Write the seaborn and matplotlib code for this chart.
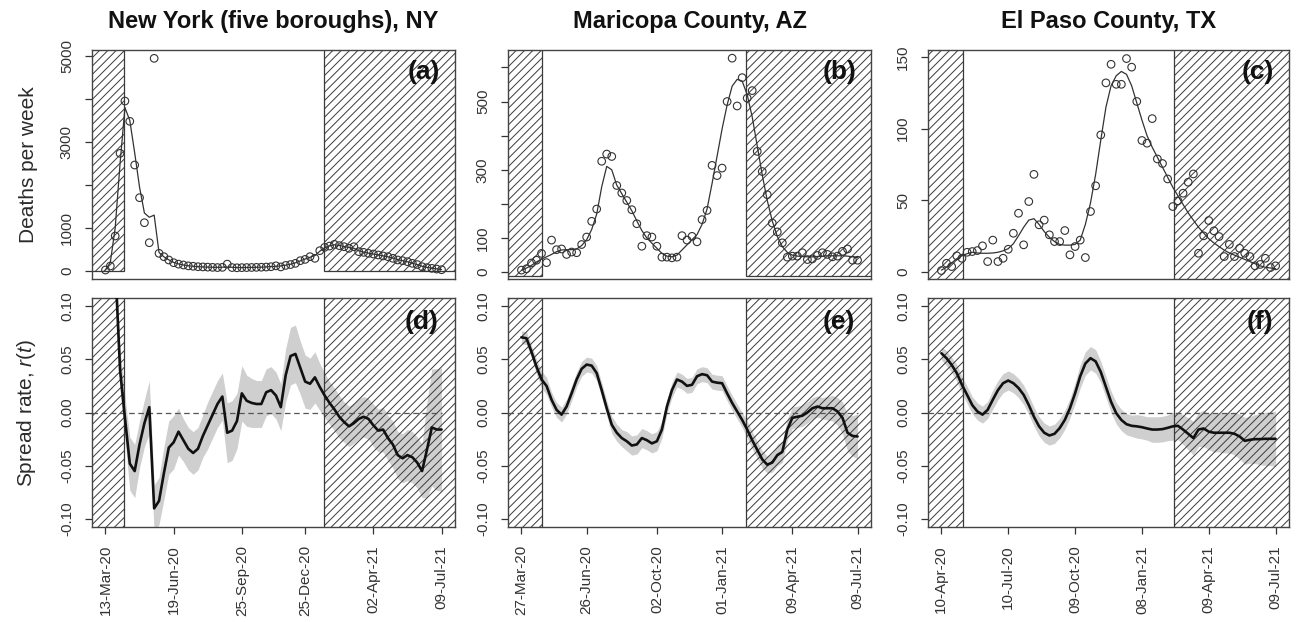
import numpy as np
import pandas as pd
import matplotlib
matplotlib.use("Agg")
import matplotlib.pyplot as plt
import matplotlib.dates as mdates
from matplotlib.patches import Rectangle
import seaborn as sns

# ---- weekly dates per county ----
ny_dates = pd.date_range("2020-03-13", "2021-07-09", freq="7D")
az_dates = pd.date_range("2020-03-27", "2021-07-09", freq="7D")
tx_dates = pd.date_range("2020-04-10", "2021-07-09", freq="7D")

# ---- New York (five boroughs) ----
ny_deaths = [23, 116, 814, 2737, 3953, 3481, 2465, 1705, 1123, 658,
             4946, 411, 333, 256, 193, 160, 140, 120, 110, 100,
             95, 90, 85, 80, 85, 160, 80, 75, 78, 80,
             82, 85, 88, 92, 100, 120, 95, 130, 150, 178,
             240, 270, 333, 295, 473, 550, 580, 620, 590, 565,
             527, 565, 450, 434, 410, 395, 372, 350, 333, 295,
             256, 240, 217, 178, 150, 100, 78, 62, 45, 30]
ny_fit = [20, 200, 1000, 2500, 3800, 3500, 2750, 1950, 1350, 1250,
          1300, 430, 330, 260, 200, 165, 140, 122, 110, 100,
          95, 90, 87, 85, 88, 92, 85, 80, 80, 82,
          84, 87, 90, 95, 102, 110, 118, 135, 158, 190,
          235, 280, 320, 360, 460, 540, 585, 610, 595, 570,
          545, 530, 470, 440, 415, 395, 375, 352, 330, 300,
          265, 240, 215, 180, 150, 110, 85, 65, 50, 35]
ny_r = [0.30, 0.22, 0.14, 0.04, -0.005, -0.048, -0.055, -0.03, -0.01, 0.005,
        -0.09, -0.083, -0.057, -0.033, -0.028, -0.018, -0.026, -0.034, -0.038, -0.034,
        -0.022, -0.012, -0.002, 0.008, 0.015, -0.019, -0.017, -0.008, 0.018, 0.011,
        0.009, 0.008, 0.008, 0.019, 0.021, 0.016, 0.005, 0.035, 0.053, 0.055,
        0.042, 0.029, 0.027, 0.033, 0.024, 0.016, 0.009, 0.003, -0.004, -0.009,
        -0.013, -0.010, -0.006, -0.004, -0.006, -0.012, -0.017, -0.016, -0.024, -0.030,
        -0.040, -0.043, -0.040, -0.042, -0.047, -0.055, -0.035, -0.014, -0.016, -0.016]
ny_hw = [0.02, 0.02, 0.02, 0.02, 0.02, 0.025, 0.025, 0.022, 0.022, 0.025,
         0.022, 0.022, 0.025, 0.025, 0.025, 0.022, 0.02, 0.02, 0.02, 0.02,
         0.02, 0.022, 0.022, 0.022, 0.022, 0.028, 0.028, 0.026, 0.026, 0.024,
         0.023, 0.022, 0.022, 0.022, 0.022, 0.022, 0.022, 0.025, 0.027, 0.027,
         0.025, 0.025, 0.024, 0.024, 0.022, 0.021, 0.02, 0.02, 0.02, 0.019,
         0.019, 0.019, 0.019, 0.019, 0.019, 0.02, 0.02, 0.021, 0.021, 0.022,
         0.022, 0.023, 0.024, 0.024, 0.024, 0.025, 0.045, 0.055, 0.057, 0.058]

# ---- Maricopa County ----
az_deaths = [6, 10, 27, 35, 55, 28, 94, 66, 68, 52,
             59, 57, 81, 103, 149, 185, 325, 346, 339, 254,
             232, 210, 183, 142, 76, 107, 103, 76, 44, 44,
             42, 44, 107, 94, 105, 89, 154, 181, 313, 283,
             305, 500, 627, 487, 570, 510, 532, 354, 295, 227,
             144, 118, 86, 44, 47, 47, 57, 37, 39, 49,
             57, 52, 45, 47, 61, 68, 35, 35]
az_fit = [5, 12, 20, 30, 38, 45, 52, 60, 65, 66,
          66, 68, 78, 95, 125, 170, 250, 310, 300, 255,
          230, 205, 180, 150, 122, 100, 85, 70, 55, 47,
          45, 50, 65, 80, 95, 110, 140, 185, 260, 340,
          420, 490, 545, 565, 560, 520, 455, 370, 285, 210,
          150, 105, 75, 58, 50, 47, 46, 45, 45, 46,
          47, 48, 48, 48, 48, 47, 45, 43]
az_r = [0.0706, 0.0697, 0.057, 0.043, 0.031, 0.025, 0.012, 0.0025, -0.002, 0.0056,
        0.018, 0.031, 0.041, 0.045, 0.044, 0.037, 0.021, 0.004, -0.0115, -0.019,
        -0.024, -0.027, -0.031, -0.030, -0.024, -0.026, -0.029, -0.027, -0.016, 0.0056,
        0.021, 0.031, 0.029, 0.025, 0.026, 0.034, 0.036, 0.035, 0.029, 0.028,
        0.0275, 0.018, 0.009, 0.001, -0.007, -0.016, -0.026, -0.035, -0.044, -0.049,
        -0.047, -0.040, -0.037, -0.016, -0.005, -0.004, -0.003, 0.0, 0.004, 0.0056,
        0.004, 0.004, 0.004, 0.001, -0.005, -0.019, -0.022, -0.0225]
az_hw = [0.006, 0.006, 0.006, 0.007, 0.008, 0.008, 0.007, 0.007, 0.007, 0.007,
         0.007, 0.007, 0.007, 0.007, 0.007, 0.007, 0.007, 0.007, 0.008, 0.008,
         0.008, 0.009, 0.009, 0.009, 0.009, 0.009, 0.009, 0.009, 0.008, 0.007,
         0.007, 0.007, 0.007, 0.007, 0.007, 0.007, 0.007, 0.007, 0.007, 0.007,
         0.007, 0.007, 0.007, 0.007, 0.007, 0.008, 0.008, 0.008, 0.008, 0.008,
         0.009, 0.01, 0.01, 0.01, 0.01, 0.01, 0.01, 0.01, 0.01, 0.01,
         0.01, 0.011, 0.012, 0.013, 0.015, 0.017, 0.019, 0.021]

# ---- El Paso County ----
tx_deaths = [0.7, 5.8, 3.5, 11, 9.3, 13.5, 14, 14.7, 18, 7,
             22, 7, 9.3, 15.6, 26.8, 40.8, 18.7, 49, 68, 32.7,
             36, 25.7, 21, 21, 28.7, 11.7, 17.5, 22, 9.8, 42,
             60, 95.6, 132, 145, 131, 131, 149, 143, 119, 91.7,
             89.8, 107, 78.8, 75.6, 64.8, 45.5, 49.5, 54.8, 62.5, 68.3,
             12.8, 25, 35.7, 28.5, 24.5, 10.5, 19, 10.5, 16.3, 12.8,
             10.5, 4, 5, 9.3, 2.8, 4]
tx_fit = [1, 3, 6, 9, 11, 12.5, 13.5, 13, 12.8, 12.8,
          13, 13.5, 14.5, 16, 19.5, 25, 31, 36, 37, 33,
          28, 24, 21, 19, 18.5, 18.5, 19, 22, 33, 48,
          68, 92, 115, 130, 137, 140, 138, 130, 118, 106,
          95, 87, 80, 73, 66, 59, 53, 47, 41, 36,
          31, 27, 23, 20, 17.5, 15, 13, 11.5, 10, 8.5,
          7, 5.5, 4, 3, 2.5, 2]
tx_r = [0.0556, 0.051, 0.0447, 0.037, 0.026, 0.0166, 0.007, 0.001, -0.002, 0.0025,
        0.012, 0.021, 0.0275, 0.030, 0.0275, 0.023, 0.0166, 0.007, -0.004, -0.013,
        -0.019, -0.0216, -0.020, -0.0147, -0.007, 0.004, 0.018, 0.034, 0.046, 0.051,
        0.048, 0.038, 0.024, 0.010, -0.0006, -0.007, -0.011, -0.0125, -0.013, -0.0138,
        -0.015, -0.016, -0.016, -0.0156, -0.0144, -0.013, -0.0125, -0.016, -0.020, -0.024,
        -0.016, -0.015, -0.018, -0.019, -0.019, -0.019, -0.019, -0.020, -0.0225, -0.0266,
        -0.0256, -0.025, -0.025, -0.0247, -0.0247, -0.0247]
tx_hw = [0.006, 0.007, 0.007, 0.008, 0.008, 0.008, 0.008, 0.008, 0.008, 0.008,
         0.009, 0.009, 0.009, 0.009, 0.009, 0.009, 0.009, 0.009, 0.009, 0.009,
         0.009, 0.009, 0.009, 0.009, 0.009, 0.009, 0.01, 0.011, 0.011, 0.011,
         0.011, 0.01, 0.01, 0.01, 0.01, 0.01, 0.01, 0.01, 0.011, 0.011,
         0.011, 0.012, 0.012, 0.012, 0.012, 0.013, 0.013, 0.014, 0.015, 0.016,
         0.016, 0.017, 0.017, 0.018, 0.018, 0.019, 0.019, 0.02, 0.021, 0.022,
         0.022, 0.023, 0.024, 0.025, 0.025, 0.026]

# ---- panel settings ----
titles = ["New York (five boroughs), NY", "Maricopa County, AZ", "El Paso County, TX"]
top_tags = ["(a)", "(b)", "(c)"]
bot_tags = ["(d)", "(e)", "(f)"]
ny_ticks = ["2020-03-13", "2020-06-19", "2020-09-25", "2020-12-25", "2021-04-02", "2021-07-09"]
az_ticks = ["2020-03-27", "2020-06-26", "2020-10-02", "2021-01-01", "2021-04-09", "2021-07-09"]
tx_ticks = ["2020-04-10", "2020-07-10", "2020-10-09", "2021-01-08", "2021-04-09", "2021-07-09"]
hatch_left_end = ["2020-04-09", "2020-04-25", "2020-05-10"]
hatch_right_start = ["2021-01-21", "2021-02-04", "2021-02-20"]

ny_yticks = [0, 1000, 2000, 3000, 4000, 5000]
ny_ylabels = ["0", "1000", "", "3000", "", "5000"]
az_yticks = [0, 100, 200, 300, 400, 500, 600]
az_ylabels = ["0", "100", "", "300", "", "500", ""]
tx_yticks = [0, 50, 100, 150]
tx_ylabels = ["0", "50", "100", "150"]
r_yticks = [-0.10, -0.05, 0.0, 0.05, 0.10]
r_ylabels = ["-0.10", "-0.05", "0.00", "0.05", "0.10"]

counties = [
    dict(dates=ny_dates, deaths=ny_deaths, fit=ny_fit, r=ny_r, hw=ny_hw, ticks=ny_ticks,
         yticks=ny_yticks, ylabels=ny_ylabels, ylim=(-186, 5140), rect_bottom=0),
    dict(dates=az_dates, deaths=az_deaths, fit=az_fit, r=az_r, hw=az_hw, ticks=az_ticks,
         yticks=az_yticks, ylabels=az_ylabels, ylim=(-20, 651), rect_bottom=-10),
    dict(dates=tx_dates, deaths=tx_deaths, fit=tx_fit, r=tx_r, hw=tx_hw, ticks=tx_ticks,
         yticks=tx_yticks, ylabels=tx_ylabels, ylim=(-5.2, 155), rect_bottom=-10),
]

sns.set_theme(style="white")
plt.rcParams["font.family"] = ["Liberation Sans", "DejaVu Sans"]
plt.rcParams["axes.unicode_minus"] = False
plt.rcParams["hatch.linewidth"] = 0.7
plt.rcParams["lines.scale_dashes"] = False
plt.rcParams["mathtext.fontset"] = "custom"
plt.rcParams["mathtext.it"] = "Liberation Sans:italic"
plt.rcParams["mathtext.rm"] = "Liberation Sans"

ink = "#2b2b2b"
fig = plt.figure(figsize=(12.97, 6.22), dpi=100)
W, H = 1297.0, 622.0
lefts = [92, 508, 928]
widths = [363, 363, 361]


def style_axes(ax):
    for s in ax.spines.values():
        s.set_color("#444444")
        s.set_linewidth(1.0)
    ax.tick_params(axis="both", direction="out", length=5, width=0.9, color="#333333",
                   labelsize=11, labelcolor="#333333", pad=8, left=True, bottom=True)
    ax.grid(False)


def add_hatch(ax, x0, x1, y0, y1):
    # '////' gives roughly 8 px between hatch lines at 100 dpi
    rect = Rectangle((x0, y0), x1 - x0, y1 - y0, facecolor="none", edgecolor="#3a3a3a",
                     hatch="////", linewidth=0.9, zorder=2)
    ax.add_patch(rect)


for k, c in enumerate(counties):
    d0, d1 = c["dates"][0], c["dates"][-1]
    span = d1 - d0
    xlim = (d0 - 0.04 * span, d1 + 0.04 * span)
    xl = [mdates.date2num(v) for v in xlim]
    h_left = mdates.date2num(pd.Timestamp(hatch_left_end[k]))
    h_right = mdates.date2num(pd.Timestamp(hatch_right_start[k]))

    # ---------- top: deaths per week ----------
    ax = fig.add_axes([lefts[k] / W, 1 - 279 / H, widths[k] / W, 229 / H])
    style_axes(ax)
    ylo, yhi = c["ylim"]
    add_hatch(ax, xl[0] - 30, h_left, c["rect_bottom"], yhi * 2)
    add_hatch(ax, h_right, xl[1] + 30, c["rect_bottom"], yhi * 2)
    sns.lineplot(x=c["dates"], y=c["fit"], ax=ax, color="#333333", linewidth=0.9, zorder=3)
    sns.scatterplot(x=c["dates"], y=c["deaths"], ax=ax, s=30, facecolors="none",
                    edgecolor="#333333", linewidth=0.8, zorder=4)
    ax.set_xlim(*xlim)
    ax.set_ylim(ylo, yhi)
    ax.set_xticks([])
    ax.set_yticks(c["yticks"])
    ax.set_yticklabels(c["ylabels"], rotation=90, va="center")
    ax.set_xlabel("")
    ax.set_title(titles[k], fontsize=17, fontweight="bold", color="#111111", pad=15.5)
    ax.annotate(top_tags[k], xy=(1, 1), xycoords="axes fraction", xytext=(-15, -10),
                textcoords="offset pixels", ha="right", va="top", fontsize=19,
                fontweight="bold", color="#111111", zorder=6)
    if k == 0:
        ax.set_ylabel("Deaths per week", fontsize=15, color=ink)
        ax.yaxis.set_label_coords(-0.149, 0.5)
    else:
        ax.set_ylabel("")

    # ---------- bottom: spread rate ----------
    ax = fig.add_axes([lefts[k] / W, 1 - 527 / H, widths[k] / W, 229 / H])
    style_axes(ax)
    r = np.array(c["r"])
    hw = np.array(c["hw"])
    ax.fill_between(c["dates"], r - hw, r + hw, color="#cfcfcf", linewidth=0, zorder=1)
    add_hatch(ax, xl[0] - 30, h_left, -1, 1)
    add_hatch(ax, h_right, xl[1] + 30, -1, 1)
    ax.hlines(0, xl[0], mdates.date2num(d1), colors="#555555", linewidth=0.9,
              linestyles=(0, (4, 2.6)), zorder=3)
    sns.lineplot(x=c["dates"], y=c["r"], ax=ax, color="#111111", linewidth=1.9, zorder=4)
    ax.set_xlim(*xlim)
    ax.set_ylim(-0.1075, 0.1075)
    ax.set_yticks(r_yticks)
    ax.set_yticklabels(r_ylabels, rotation=90, va="center")
    tick_dates = [pd.Timestamp(t) for t in c["ticks"]]
    ax.set_xticks(tick_dates)
    ax.set_xticklabels([t.strftime("%d-%b-%y") for t in tick_dates], rotation=90,
                       ha="center", va="top")
    ax.set_xlabel("")
    ax.annotate(bot_tags[k], xy=(1, 1), xycoords="axes fraction", xytext=(-16, -12),
                textcoords="offset pixels", ha="right", va="top", fontsize=19,
                fontweight="bold", color="#111111", zorder=6)
    if k == 0:
        ax.set_ylabel("Spread rate, $r(t)$", fontsize=15, color=ink)
        ax.yaxis.set_label_coords(-0.149, 0.5)
    else:
        ax.set_ylabel("")

fig.savefig("out.png", dpi=100, facecolor="white")
